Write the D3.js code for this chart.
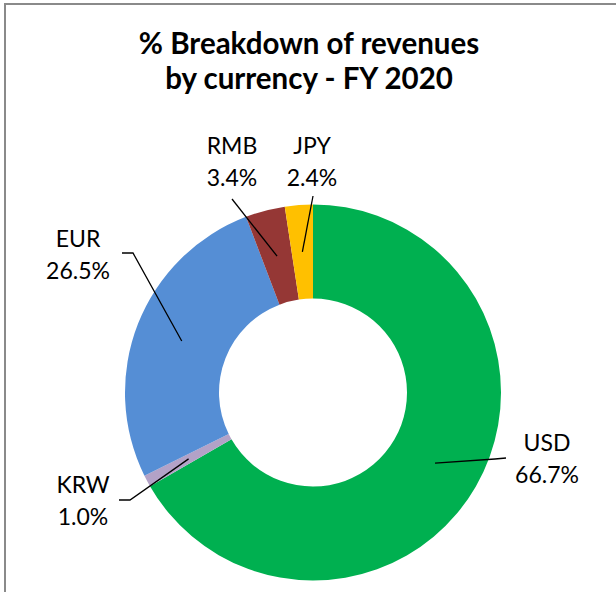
<!DOCTYPE html>
<html>
<head>
<meta charset="utf-8">
<script src="https://cdn.jsdelivr.net/npm/d3@7"></script>
<style>
  body { margin: 0; background: #fff; }
  text { font-family: Lato, "Noto Sans", sans-serif; fill: #000; }
</style>
</head>
<body>
<div id="chart"></div>
<script>
// data
var currencies = ["USD", "KRW", "EUR", "RMB", "JPY"];
var shares = [66.7, 1.0, 26.5, 3.4, 2.4];
var sliceColors = ["#00b050", "#b3a2c7", "#558ed5", "#953735", "#ffc000"];
var titleLines = ["% Breakdown of revenues", "by currency - FY 2020"];

var width = 616, height = 592;
var cx = 313, cy = 392.5,
    outerR = 188, innerR = 94;

// where excel put the data labels (label centre x, first baseline y, leader end / elbow)
var labelLayout = {
  USD: {x: 547, y: 451, end: [506, 458], elbow: [495, 459]},
  KRW: {x: 83,  y: 493, end: [119, 500], elbow: [130, 500]},
  EUR: {x: 78,  y: 247, end: [122, 253], elbow: [133, 253]},
  RMB: {x: 232, y: 154, end: [232, 199]},
  JPY: {x: 312, y: 154, end: [313, 196]}
};

var data = currencies.map(function(c, i) {
  return {name: c, value: shares[i], color: sliceColors[i]};
});

var svg = d3.select("#chart")
  .append("svg")
    .attr("width", width)
    .attr("height", height);

// chart frame (right and bottom edges are off the picture)
svg.append("rect")
  .attr("x", 5)
  .attr("y", 4)
  .attr("width", 700)
  .attr("height", 700)
  .attr("fill", "none")
  .attr("stroke", "#8a8a8a")
  .attr("stroke-width", 2);

// title
svg.append("text")
  .attr("x", 309)
  .attr("y", 54)
  .attr("text-anchor", "middle")
  .style("font-weight", "bold")
  .style("font-size", "29.5px")
  .selectAll("tspan")
  .data(titleLines)
  .enter()
  .append("tspan")
    .attr("x", 309)
    .attr("dy", function(d, i) { return i === 0 ? 0 : 35; })
    .text(function(d) { return d; });

var pie = d3.pie()
  .sort(null)
  .value(function(d) { return d.value; });

var arc = d3.arc()
  .innerRadius(innerR)
  .outerRadius(outerR);

var g = svg.append("g")
  .attr("transform", "translate(" + cx + "," + cy + ")");

var arcs = pie(data);

g.selectAll("path")
  .data(arcs)
  .enter()
  .append("path")
    .attr("d", arc)
    .attr("fill", function(d) { return d.data.color; });

// leader lines from slice centroid to label
svg.selectAll(".leader")
  .data(arcs)
  .enter()
  .append("polyline")
    .attr("class", "leader")
    .attr("fill", "none")
    .attr("stroke", "#000")
    .attr("stroke-width", 1.3)
    .attr("points", function(d) {
      var c = arc.centroid(d);
      var l = labelLayout[d.data.name];
      var pts = [[cx + c[0], cy + c[1]]];
      if (l.elbow) pts.push(l.elbow);
      pts.push(l.end);
      return pts.map(function(p) { return p.join(","); }).join(" ");
    });

// labels
var labels = svg.selectAll(".lbl")
  .data(arcs)
  .enter()
  .append("text")
    .attr("class", "lbl")
    .attr("text-anchor", "middle")
    .style("font-size", "23px");

labels.append("tspan")
  .attr("x", function(d) { return labelLayout[d.data.name].x; })
  .attr("y", function(d) { return labelLayout[d.data.name].y; })
  .text(function(d) { return d.data.name; });

labels.append("tspan")
  .attr("x", function(d) { return labelLayout[d.data.name].x; })
  .attr("y", function(d) { return labelLayout[d.data.name].y + 32; })
  .text(function(d) { return d3.format(".1f")(d.data.value) + "%"; });
</script>
</body>
</html>
